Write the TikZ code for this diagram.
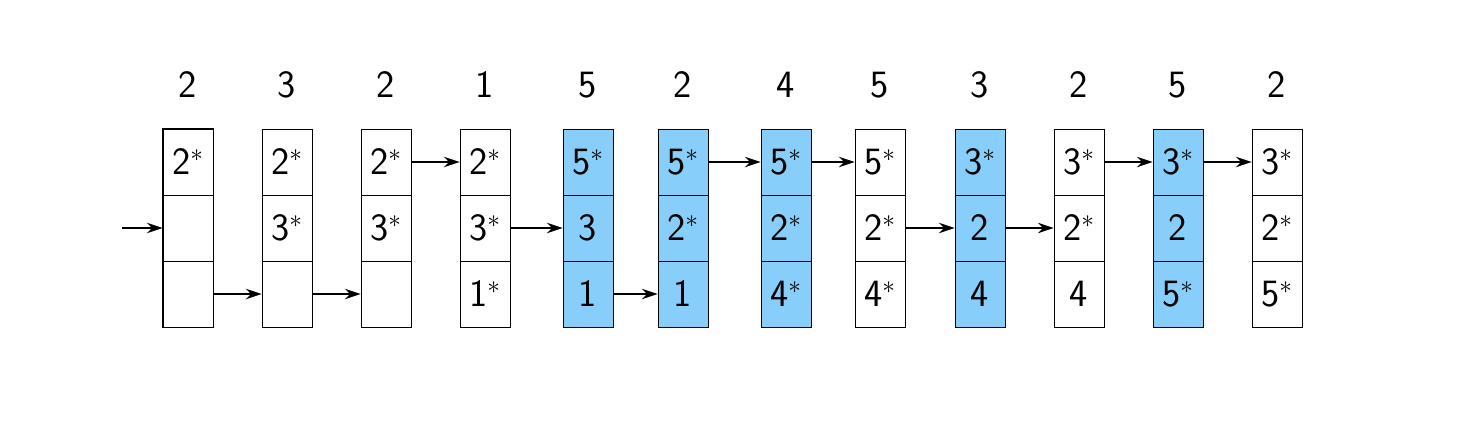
\documentclass[tikz,border=0pt]{standalone}
\usetikzlibrary{arrows.meta}
\definecolor{cellblue}{HTML}{87CEFA}
\tikzset{
  cell/.style={draw, minimum width=1cm, minimum height=1.32cm, inner sep=0pt,
    font=\fontsize{22}{26}\selectfont\sffamily},
  head/.style={font=\fontsize{22}{26}\selectfont\sffamily},
  link/.style={-{Stealth[length=9pt,width=6pt]}, thick}
}
\begin{document}
\begin{tikzpicture}[x=0.02cm,y=-0.02cm]
  \useasboundingbox (0,0) rectangle (1461,427);
  % columns of the table
  \foreach \i/\x/\h/\fl/\a/\b/\c in {
      1/188/2/white/2$^*$//,
      2/287/3/white/2$^*$/3$^*$/,
      3/386/2/white/2$^*$/3$^*$/,
      4/485/1/white/2$^*$/3$^*$/1$^*$,
      5/588/5/cellblue/5$^*$/3/1,
      6/683/2/cellblue/5$^*$/2$^*$/1,
      7/786/4/cellblue/5$^*$/2$^*$/4$^*$,
      8/880/5/white/5$^*$/2$^*$/4$^*$,
      9/980/3/cellblue/3$^*$/2/4,
      10/1079/2/white/3$^*$/2$^*$/4,
      11/1178/5/cellblue/3$^*$/2/5$^*$,
      12/1277/2/white/3$^*$/2$^*$/5$^*$} {
    \node[head] (h\i) at (\x,85) {\h};
    \node[cell, fill=\fl] (c\i r1) at (\x,162) {\a};
    \node[cell, fill=\fl] (c\i r2) at (\x,228) {\b};
    \node[cell, fill=\fl] (c\i r3) at (\x,294) {\c};
  }
  \draw[thick] (c1r1.north west) rectangle (c1r3.south east);
  % pointers
  \coordinate (start) at (122,228);
  \draw[link] (start) -- (c1r2.west);
  \draw[link] (c1r3.east) -- (c2r3.west);
  \draw[link] (c2r3.east) -- (c3r3.west);
  \draw[link] (c3r1.east) -- (c4r1.west);
  \draw[link] (c4r2.east) -- (c5r2.west);
  \draw[link] (c5r3.east) -- (c6r3.west);
  \draw[link] (c6r1.east) -- (c7r1.west);
  \draw[link] (c7r1.east) -- (c8r1.west);
  \draw[link] (c8r2.east) -- (c9r2.west);
  \draw[link] (c9r2.east) -- (c10r2.west);
  \draw[link] (c10r1.east) -- (c11r1.west);
  \draw[link] (c11r1.east) -- (c12r1.west);
\end{tikzpicture}
\end{document}
